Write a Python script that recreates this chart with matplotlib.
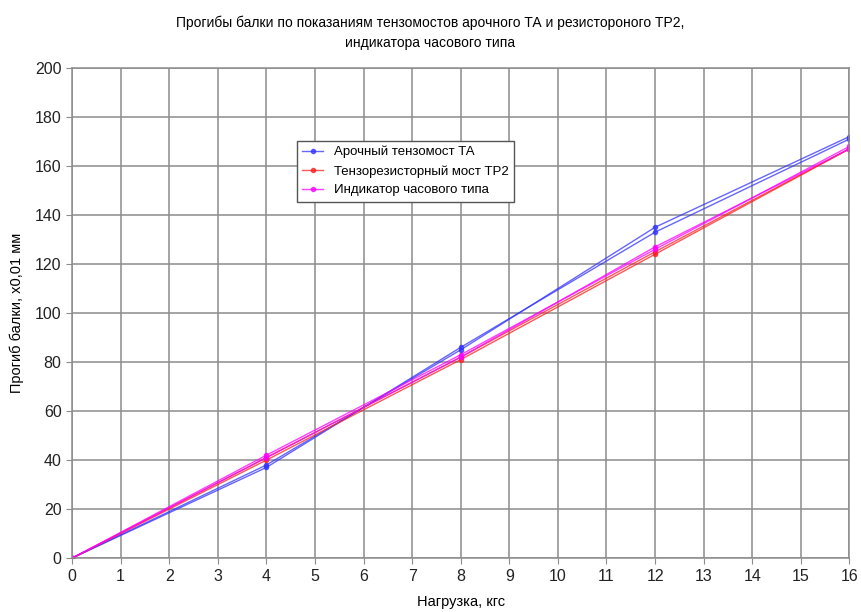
import numpy as np
import matplotlib.pyplot as plt

plt.rcParams['font.family'] = ['Liberation Sans', 'DejaVu Sans']

load = [0, 4, 8, 12, 16]

# each gauge has two runs (loading / unloading)
arch_ta_1 = [0, 38, 85, 135, 172]
arch_ta_2 = [0, 37, 86, 133, 171]
tr2_1 = [0, 41, 82, 125, 167]
tr2_2 = [0, 40, 81, 124, 167]
indicator_1 = [0, 42, 83, 126, 168]
indicator_2 = [0, 41, 82, 127, 167]

labels = ['Арочный тензомост ТА', 'Тензорезисторный мост ТР2', 'Индикатор часового типа']
colors = ['#3333ff', '#ff2020', '#ff00ff']

fig = plt.figure(figsize=(8.61, 6.12), dpi=100)
ax = fig.add_axes([0.0836, 0.088, 0.903, 0.801])

runs = [(arch_ta_1, arch_ta_2), (tr2_1, tr2_2), (indicator_1, indicator_2)]
for (r1, r2), lab, c in zip(runs, labels, colors):
    ax.plot(load, r1, '-o', color=c, lw=1.0, ms=3, alpha=0.75, label=lab)
    ax.plot(load, r2, '-o', color=c, lw=1.0, ms=3, alpha=0.75)

ax.set_xlim(0, 16)
ax.set_ylim(0, 200)
ax.set_xticks(np.arange(0, 17, 1))
ax.set_yticks(np.arange(0, 201, 20))
ax.grid(True, color='#8c8c8c', lw=1.1)
ax.set_axisbelow(True)
for s in ax.spines.values():
    s.set_color('#8c8c8c')
    s.set_linewidth(1.1)
ax.tick_params(labelsize=11.5, colors='#222222', length=4, color='#8c8c8c')

ax.set_xlabel('Нагрузка, кгс', fontsize=10.5, labelpad=8)
ax.set_ylabel('Прогиб балки, х0,01 мм', fontsize=10.5, labelpad=8)
fig.suptitle('Прогибы балки по показаниям тензомостов арочного ТА и резистороного ТР2,\n'
             'индикатора часового типа', fontsize=10, y=0.975, linespacing=1.6)

leg = ax.legend(loc='upper left', bbox_to_anchor=(0.281, 0.865), fontsize=9.5,
                fancybox=False, edgecolor='#555555', framealpha=1,
                handlelength=1.6, borderpad=0.4, labelspacing=0.5)

fig.savefig('out.png', dpi=100)
